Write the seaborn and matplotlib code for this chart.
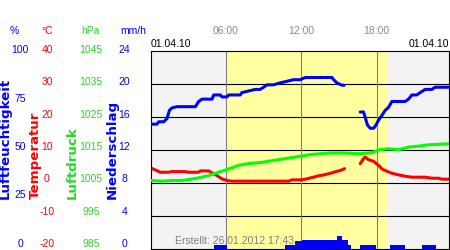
import numpy as np
import pandas as pd
import matplotlib
matplotlib.use("Agg")
import matplotlib.pyplot as plt
import matplotlib.transforms as mtrans
import seaborn as sns

# ---------------- data ----------------
hum_t = [0.0, 0.50, 0.64, 1.04, 1.30, 1.49, 1.70, 2.10, 3.56, 3.69, 3.82, 4.09, 4.89, 5.02, 5.55,
         5.68, 6.08, 6.21, 7.14, 7.27, 7.81, 8.34, 8.73, 9.00, 9.27, 9.80, 10.20, 10.73, 11.39,
         11.92, 12.32, 14.44, 14.58, 14.84, 15.24, 15.43,
         16.70, 16.97, 17.10, 17.28, 17.50, 17.76, 17.95, 18.16, 18.43, 18.69, 18.96, 19.22,
         20.28, 20.55, 20.82, 21.21, 21.48, 21.88, 22.41, 22.67, 23.74]
hum_v = [62.9, 62.9, 64.1, 64.1, 65.7, 69.8, 71.1, 71.7, 71.7, 73.0, 74.3, 75.5, 75.5, 77.6, 77.6,
         76.6, 76.6, 77.6, 77.6, 78.8, 79.6, 80.4, 80.4, 81.5, 82.7, 82.7, 83.5, 84.3, 85.3,
         85.3, 86.4, 86.4, 85.3, 83.7, 82.5, 82.5,
         69.0, 69.0, 66.2, 62.4, 60.8, 60.8, 62.4, 64.9, 67.3, 69.8, 71.4, 74.3,
         74.3, 75.5, 77.6, 77.6, 78.8, 80.4, 80.4, 81.5, 81.5]
hum_seg = [0] * 36 + [1] * 21

temp_t = [0.0, 0.37, 0.77, 1.43, 1.70, 2.76, 3.03, 3.82, 3.96, 4.62, 4.89, 5.28, 5.68, 6.08, 6.48,
          10.99, 11.26, 12.05, 12.32, 12.85, 13.38, 13.91, 14.44, 14.84, 15.11, 15.45,
          16.70, 16.97, 17.10, 17.36, 17.76, 18.16, 18.43, 18.82, 19.22, 19.75, 20.28, 20.82,
          21.88, 22.41, 22.94, 23.20, 23.74]
temp_v = [4.5, 3.9, 3.2, 3.2, 3.4, 3.4, 3.2, 3.2, 3.6, 3.6, 3.0, 2.2, 1.2, 0.7, 0.5,
          0.5, 0.9, 0.9, 1.1, 1.6, 2.1, 2.5, 3.0, 3.5, 3.7, 4.3,
          5.8, 7.3, 7.8, 7.0, 6.5, 5.3, 4.2, 3.5, 2.9, 2.4, 2.0, 1.7,
          1.7, 1.4, 1.4, 1.1, 1.1]
temp_seg = [0] * 26 + [1] * 17

pres_t = [0.0, 0.90, 1.70, 2.50, 3.03, 3.82, 4.62, 5.42, 6.21, 7.01, 7.81, 8.87, 10.20, 11.52,
          12.85, 14.18, 15.51, 16.57, 17.63, 18.16, 18.96, 19.75, 20.55, 21.35, 22.14, 23.74]
pres_v = [1005.7, 1005.5, 1005.7, 1005.7, 1006.0, 1006.5, 1007.2, 1008.2, 1009.2, 1010.3,
          1010.8, 1011.2, 1012.0, 1012.8, 1013.6, 1014.0, 1014.0, 1013.8, 1014.1, 1015.0,
          1015.3, 1015.0, 1015.8, 1016.1, 1016.5, 1016.8]

prec_start = [5.07, 10.72, 11.52, 12.05, 14.84, 15.24, 15.69, 16.71, 19.04, 21.66]
prec_end = [6.08, 11.52, 12.05, 14.84, 15.24, 15.69, 15.96, 17.98, 20.23, 22.72]
prec_v = [0.5, 0.5, 1.0, 1.1, 1.6, 1.1, 0.5, 0.5, 0.5, 0.5]

sunrise, sunset = 6.08, 18.9

hum_ticks = [100, 75, 50, 25, 0]
temp_ticks = [40, 30, 20, 10, 0, -10, -20]
pres_ticks = [1045, 1035, 1025, 1015, 1005, 995, 985]
prec_ticks = [24, 20, 16, 12, 8, 4, 0]
hour_ticks = [6, 12, 18]
hour_labels = ["06:00", "12:00", "18:00"]
date_label = "01.04.10"
created = "Erstellt: 26.01.2012 17:43"

# ---------------- style ----------------
sns.set_style("white")
plt.rcParams['font.family'] = ['Liberation Sans', 'DejaVu Sans']

C_HUM = '#0000ff'
C_TMP = '#ff0000'
C_PRS = '#00ff00'
C_PRS_TXT = '#22dd22'
C_PRC = '#0000ff'

W, H = 450, 250
fig = plt.figure(figsize=(W / 100, H / 100), dpi=100)
L, R, T, B = 150.7, 449.3, 50.5, 249.0
ax = fig.add_axes([L / W, 1 - B / H, (R - L) / W, (B - T) / H])
ax.set_facecolor('#f3f3f3')
ax.set_xlim(0, 23.8)
ax.set_ylim(-20, 40)
ax.axvspan(sunrise, sunset, color='#ffffa0', lw=0, zorder=1)
for v in temp_ticks[1:-1]:
    ax.axhline(v, color='black', lw=0.8, zorder=1.5)
for h in hour_ticks:
    ax.axvline(h, color='#808080', lw=0.8, zorder=1.5)
for s in ax.spines.values():
    s.set_color('black')
    s.set_linewidth(0.8)

LW = 2.2
df_t = pd.DataFrame({'t': temp_t, 'v': temp_v, 'seg': temp_seg})
sns.lineplot(data=df_t, x='t', y='v', units='seg', estimator=None, color=C_TMP,
             lw=LW, ax=ax, legend=False)

def twin(lo, hi):
    a = ax.twinx()
    a.set_ylim(lo, hi)
    for s in a.spines.values():
        s.set_visible(False)
    return a

ax_prc = twin(0, 24)
widths = [e - s for s, e in zip(prec_start, prec_end)]
ax_prc.bar(prec_start, prec_v, width=widths, align='edge', color=C_PRC, lw=0)

ax_prs = twin(985, 1045)
df_p = pd.DataFrame({'t': pres_t, 'v': pres_v})
sns.lineplot(data=df_p, x='t', y='v', color=C_PRS, lw=LW, ax=ax_prs, legend=False)

ax_hum = twin(0, 100)
df_h = pd.DataFrame({'t': hum_t, 'v': hum_v, 'seg': hum_seg})
sns.lineplot(data=df_h, x='t', y='v', units='seg', estimator=None, color=C_HUM,
             lw=LW, ax=ax_hum, legend=False)

for a in (ax, ax_prc, ax_prs, ax_hum):
    a.set_xlabel('')
    a.set_ylabel('')
    a.set_xticks([])
    a.set_yticks([])
    a.set_xlim(0, 23.8)

# ---------------- texts ----------------
FS = 7.5
def fx(px):
    return px / W
def fy(py):
    return 1 - py / H

fig.text(fx(14), fy(30.5), "%", color=C_HUM, fontsize=FS, ha='center', va='center')
fig.text(fx(47), fy(30.5), "°C", color=C_TMP, fontsize=FS, ha='center', va='center')
fig.text(fx(90), fy(30.5), "hPa", color=C_PRS_TXT, fontsize=FS, ha='center', va='center')
fig.text(fx(133), fy(30.5), "mm/h", color=C_HUM, fontsize=FS, ha='center', va='center')

LT, LB = 50.0, 244.0
def lbl_y(v, vmax, vmin):
    return LT + (LB - LT) * (vmax - v) / (vmax - vmin)

for v in hum_ticks:
    fig.text(fx(20), fy(lbl_y(v, 100, 0)), str(v), color=C_HUM, fontsize=FS, ha='center', va='center')
for v in temp_ticks:
    fig.text(fx(47), fy(lbl_y(v, 40, -20)), str(v), color=C_TMP, fontsize=FS, ha='center', va='center')
for v in pres_ticks:
    fig.text(fx(91), fy(lbl_y(v, 1045, 985)), str(v), color=C_PRS_TXT, fontsize=FS, ha='center', va='center')
for v in prec_ticks:
    fig.text(fx(124.5), fy(lbl_y(v, 24, 0)), str(v), color=C_HUM, fontsize=FS, ha='center', va='center')

RFS = 9.6
for txt, x, col in [("Luftfeuchtigkeit", 5.5, C_HUM), ("Temperatur", 35.5, C_TMP),
                    ("Luftdruck", 72, C_PRS_TXT), ("Niederschlag", 112.5, C_HUM)]:
    fig.text(fx(x), fy(199), txt, color=col, fontsize=RFS, fontweight='bold',
             family='DejaVu Sans', rotation=90, rotation_mode='anchor',
             ha='left', va='center')

tr = mtrans.blended_transform_factory(ax.transData, fig.transFigure)
for h, s in zip(hour_ticks, hour_labels):
    fig.text(h, fy(30.5), s, transform=tr, color='#8a8a8a', fontsize=FS, ha='center', va='center')

fig.text(fx(150.5), fy(44), date_label, color='black', fontsize=FS, ha='left', va='center')
fig.text(fx(449), fy(44), date_label, color='black', fontsize=FS, ha='right', va='center')
fig.text(fx(175), fy(240.5), created, color='#808080', fontsize=FS, ha='left', va='center', zorder=10)

fig.savefig("out.png", dpi=100)
